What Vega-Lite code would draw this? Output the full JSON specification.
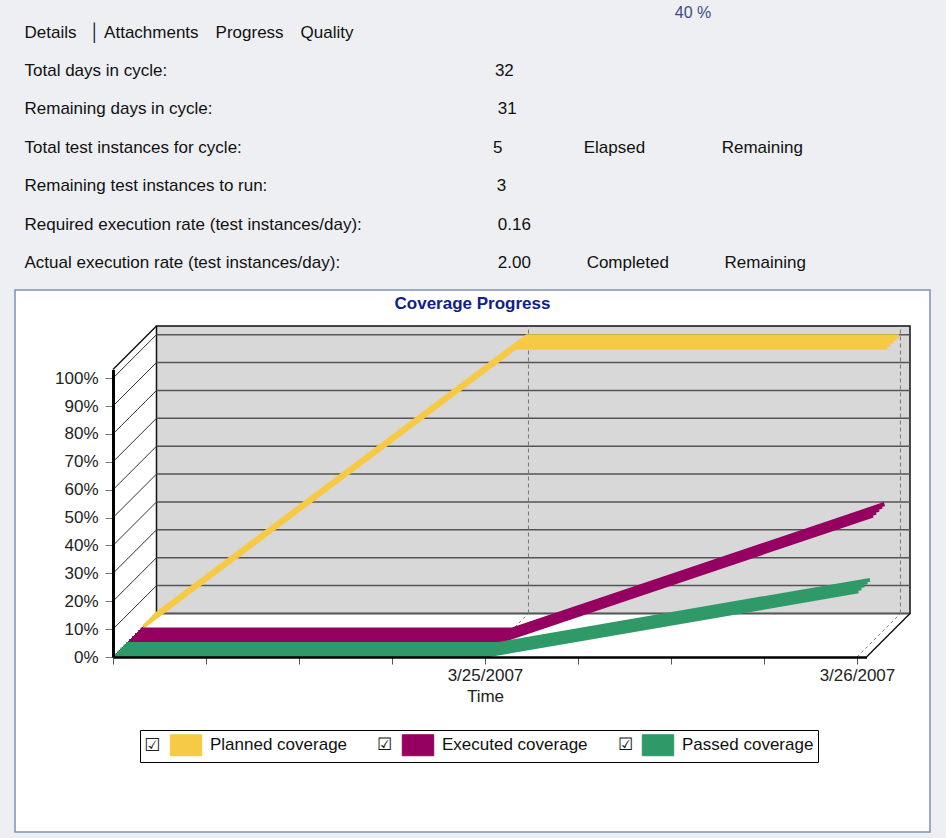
{
  "$schema": "https://vega.github.io/schema/vega-lite/v6.json",
  "background": "#eeeff2",
  "autosize": {"type": "none"},
  "padding": {"left": 15, "top": 290, "right": 16, "bottom": 6},
  "config": {
    "font": "Liberation Sans",
    "view": {"stroke": null},
    "mark": {"invalid": "show"}
  },
  "datasets": {
    "cov": [
      {"series": "Planned coverage", "date": "2007-03-24", "pct": 0},
      {"series": "Planned coverage", "date": "2007-03-25", "pct": 100},
      {"series": "Planned coverage", "date": "2007-03-26", "pct": 100},
      {"series": "Executed coverage", "date": "2007-03-24", "pct": 0},
      {"series": "Executed coverage", "date": "2007-03-25", "pct": 0},
      {"series": "Executed coverage", "date": "2007-03-26", "pct": 45},
      {"series": "Passed coverage", "date": "2007-03-24", "pct": 0},
      {"series": "Passed coverage", "date": "2007-03-25", "pct": 0},
      {"series": "Passed coverage", "date": "2007-03-26", "pct": 23}
    ],
    "grid": [{"pct": 0}, {"pct": 10}, {"pct": 20}, {"pct": 30}, {"pct": 40}, {"pct": 50}, {"pct": 60}, {"pct": 70}, {"pct": 80}, {"pct": 90}, {"pct": 100}],
    "days": [{"date": "2007-03-25"}, {"date": "2007-03-26"}]
  },
  "width": 915,
  "height": 542,
  "view": {"fill": "white", "stroke": "#8090b8", "strokeWidth": 1.5},
  "title": {"text": ["Days", "3 %", "", "", "Test Instance Runs", "40 %"], "anchor": "middle", "dx": 220.5, "baseline": "top", "offset": -55, "lineHeight": 28.75, "fontSize": 16, "fontWeight": "normal", "color": "#3a4a88"},
  "layer": [
    {
      "data": {"values": [{}]},
      "mark": {"type": "rect", "xOffset": 43.5, "x2Offset": 43.5, "yOffset": -43.5, "y2Offset": -43.5, "fill": "#d8d8d8", "stroke": "#111", "strokeWidth": 1.5, "invalid": "show"},
      "encoding": {
        "x": {"datum": {"year": 2007, "month": 3, "date": 24, "utc": true}, "type": "temporal"},
        "x2": {"datum": {"year": 2007, "month": 3, "date": 26, "hours": 0, "minutes": 37, "utc": true}},
        "y": {"datum": 0, "type": "quantitative"},
        "y2": {"datum": 103.1}
      }
    },
    {
      "data": {"name": "grid"},
      "mark": {"type": "rule", "xOffset": 43.5, "x2Offset": 43.5, "yOffset": -43.5, "y2Offset": -43.5, "color": "#555", "strokeWidth": 1.5, "invalid": "show"},
      "encoding": {
        "x": {"datum": {"year": 2007, "month": 3, "date": 24, "utc": true}, "type": "temporal"},
        "x2": {"datum": {"year": 2007, "month": 3, "date": 26, "hours": 0, "minutes": 37, "utc": true}},
        "y": {"field": "pct", "type": "quantitative"}
      }
    },
    {
      "data": {"name": "days"},
      "mark": {"type": "rule", "xOffset": 43.5, "x2Offset": 43.5, "yOffset": -43.5, "y2Offset": -43.5, "color": "#777", "strokeWidth": 1, "strokeDash": [4, 3], "invalid": "show"},
      "encoding": {
        "x": {"field": "date", "type": "temporal"},
        "y": {"datum": 0, "type": "quantitative"},
        "y2": {"datum": 103.1}
      }
    },
    {
      "data": {"name": "grid"},
      "mark": {"type": "rule", "x2Offset": 43.5, "y2Offset": -43.5, "color": "#333", "strokeWidth": 1, "invalid": "show"},
      "encoding": {
        "x": {"datum": {"year": 2007, "month": 3, "date": 24, "utc": true}, "type": "temporal"},
        "x2": {"datum": {"year": 2007, "month": 3, "date": 24, "utc": true}},
        "y": {"field": "pct", "type": "quantitative"},
        "y2": {"field": "pct"}
      }
    },
    {
      "data": {"values": [{}]},
      "mark": {"type": "rule", "x2Offset": 43.5, "y2Offset": -43.5, "color": "#111", "strokeWidth": 1.5, "invalid": "show"},
      "encoding": {
        "x": {"datum": {"year": 2007, "month": 3, "date": 24, "utc": true}, "type": "temporal"},
        "x2": {"datum": {"year": 2007, "month": 3, "date": 24, "utc": true}},
        "y": {"datum": 103.1, "type": "quantitative"},
        "y2": {"datum": 103.1}
      }
    },
    {
      "data": {"name": "days"},
      "mark": {"type": "rule", "x2Offset": 43.5, "y2Offset": -43.5, "color": "#777", "strokeWidth": 1, "strokeDash": [3, 3], "invalid": "show"},
      "encoding": {
        "x": {"field": "date", "type": "temporal"},
        "x2": {"field": "date"},
        "y": {"datum": 0, "type": "quantitative"},
        "y2": {"datum": 0}
      }
    },
    {
      "data": {"values": [{}]},
      "mark": {"type": "rule", "x2Offset": 43.5, "y2Offset": -43.5, "color": "#111", "strokeWidth": 1.5, "invalid": "show"},
      "encoding": {
        "x": {"datum": {"year": 2007, "month": 3, "date": 26, "hours": 0, "minutes": 37, "utc": true}, "type": "temporal"},
        "x2": {"datum": {"year": 2007, "month": 3, "date": 26, "hours": 0, "minutes": 37, "utc": true}},
        "y": {"datum": 0, "type": "quantitative"},
        "y2": {"datum": 0}
      }
    },
    {"data": {"name": "cov"}, "transform": [{"filter": "datum.series === 'Planned coverage'"}], "mark": {"type": "line", "strokeWidth": 4, "xOffset": 30.5, "yOffset": -30.5},
      "encoding": {
        "x": {
          "field": "date", "type": "temporal",
          "scale": {"type": "utc", "domain": [{"year": 2007, "month": 3, "date": 24, "utc": true}, {"year": 2007, "month": 3, "date": 26, "hours": 0, "minutes": 37, "utc": true}], "range": [98, 851.5]},
          "axis": {
            "title": "Coverage Progress", "titleAngle": 0, "titleAlign": "center", "titleBaseline": "top", "titleX": 457, "titleY": -362, "titleFontSize": 17, "titleFontWeight": "bold", "titleColor": "#10208a", "titleLimit": 2000,
            "offset": -175, "zindex": 1, "grid": false, "domainColor": "#000", "domainWidth": 2.5, "tickColor": "#555", "tickSize": 7, "tickCount": 8,
            "labelExpr": "utchours(datum.value) === 0 && utcdate(datum.value) === 25 ? [utcFormat(datum.value, '%-m/%-d/%Y'), 'Time'] : (utchours(datum.value) === 0 && utcdate(datum.value) === 26 ? utcFormat(datum.value, '%-m/%-d/%Y') : '')",
            "labelFontSize": 17, "labelLineHeight": 21, "labelColor": "#222", "labelPadding": 3, "labelOverlap": false, "labelFlush": false}
        },
        "y": {
          "field": "pct", "type": "quantitative",
          "scale": {"domain": [0, 103.1], "range": [367, 79.5], "nice": false, "zero": false},
          "axis": {
            "title": [
              "Details\u2002 │ Attachments\u2003Progress\u2003Quality",
              "Total days in cycle:\u2003\u2003\u2003\u2003\u2003\u2003\u2003\u2003\u2003\u2003\u2003\u2003\u2003\u2003\u2003\u2003\u2003\u2003\u2003 32",
              "Remaining days in cycle:\u2003\u2003\u2003\u2003\u2003\u2003\u2003\u2003\u2003\u2003\u2003\u2003\u2003\u2003\u2003\u2003\u2002 31",
              "Total test instances for cycle:\u2003\u2003\u2003\u2003\u2003\u2003\u2003\u2003\u2003\u2003\u2003\u2003\u2003\u2003\u2002 5\u2003\u2003\u2003\u2003\u2002 Elapsed\u2003\u2003\u2003\u2003\u2002Remaining",
              "Remaining test instances to run:\u2003\u2003\u2003\u2003\u2003\u2003\u2003\u2003\u2003\u2003\u2003\u2003\u2003\u20023",
              "Required execution rate (test instances/day):\u2003\u2003\u2003\u2003\u2003\u2003\u2003\u2002\u20020.16",
              "Actual execution rate (test instances/day):\u2003\u2003\u2003\u2003\u2003\u2003\u2003\u2003\u2002\u2002 2.00\u2003\u2003\u2003 Completed\u2003\u2003\u2003 Remaining"
            ],
            "titleAngle": 0, "titleAlign": "left", "titleBaseline": "top", "titleX": -89, "titleY": -266, "titleLineHeight": 38.4,
            "titleFontSize": 17, "titleFontWeight": "normal", "titleColor": "#111", "titleLimit": 2000,
            "offset": -98, "zindex": 1, "grid": false, "values": [0, 10, 20, 30, 40, 50, 60, 70, 80, 90, 100], "labelExpr": "datum.value + '%'", "domainColor": "#000", "domainWidth": 3, "tickColor": "#777", "tickSize": 8, "labelPadding": 7, "labelFontSize": 17, "labelColor": "#222"}
        },
        "color": {"field": "series", "type": "nominal",
          "scale": {"domain": ["Planned coverage", "Executed coverage", "Passed coverage"], "range": ["#f6ca45", "#950061", "#2f9a68"]},
          "legend": {
            "orient": "none", "legendX": 125, "legendY": 440, "direction": "horizontal",
            "title": "☑", "titleOrient": "left", "titleFont": "DejaVu Sans", "titleFontSize": 18, "titleFontWeight": "normal", "titlePadding": 14, "titleColor": "#222",
            "symbolType": "M-1.5,-1H1.5V1H-1.5Z", "symbolSize": 440, "symbolStrokeWidth": 1, "symbolOpacity": 1,
            "labelFontSize": 17, "labelColor": "#111", "labelOffset": 13, "columnPadding": 7, "labelLimit": 400,
            "labelExpr": "datum.label === 'Passed coverage' ? datum.label + '\u2003\u2003' : datum.label + '\u2002\u2002\u2002 ☑'",
            "fillColor": "white", "strokeColor": "black", "padding": 4,
            "encode": {"symbols": {"update": {"fill": {"scale": "color", "field": "value"}, "fillOpacity": {"value": 1}}}}
          }}
      }},
    {"data": {"name": "cov"}, "transform": [{"filter": "datum.series === 'Planned coverage'"}], "mark": {"type": "line", "strokeWidth": 4, "xOffset": 33.5, "yOffset": -33.5}, "encoding": {"x": {"field": "date", "type": "temporal"}, "y": {"field": "pct", "type": "quantitative"}, "color": {"field": "series", "type": "nominal"}}},
    {"data": {"name": "cov"}, "transform": [{"filter": "datum.series === 'Planned coverage'"}], "mark": {"type": "line", "strokeWidth": 4, "xOffset": 36.5, "yOffset": -36.5}, "encoding": {"x": {"field": "date", "type": "temporal"}, "y": {"field": "pct", "type": "quantitative"}, "color": {"field": "series", "type": "nominal"}}},
    {"data": {"name": "cov"}, "transform": [{"filter": "datum.series === 'Planned coverage'"}], "mark": {"type": "line", "strokeWidth": 4, "xOffset": 39.5, "yOffset": -39.5}, "encoding": {"x": {"field": "date", "type": "temporal"}, "y": {"field": "pct", "type": "quantitative"}, "color": {"field": "series", "type": "nominal"}}},
    {"data": {"name": "cov"}, "transform": [{"filter": "datum.series === 'Planned coverage'"}], "mark": {"type": "line", "strokeWidth": 4, "xOffset": 42, "yOffset": -42}, "encoding": {"x": {"field": "date", "type": "temporal"}, "y": {"field": "pct", "type": "quantitative"}, "color": {"field": "series", "type": "nominal"}}},
    {"data": {"name": "cov"}, "transform": [{"filter": "datum.series === 'Executed coverage'"}], "mark": {"type": "line", "strokeWidth": 4, "xOffset": 16, "yOffset": -16}, "encoding": {"x": {"field": "date", "type": "temporal"}, "y": {"field": "pct", "type": "quantitative"}, "color": {"field": "series", "type": "nominal"}}},
    {"data": {"name": "cov"}, "transform": [{"filter": "datum.series === 'Executed coverage'"}], "mark": {"type": "line", "strokeWidth": 4, "xOffset": 19, "yOffset": -19}, "encoding": {"x": {"field": "date", "type": "temporal"}, "y": {"field": "pct", "type": "quantitative"}, "color": {"field": "series", "type": "nominal"}}},
    {"data": {"name": "cov"}, "transform": [{"filter": "datum.series === 'Executed coverage'"}], "mark": {"type": "line", "strokeWidth": 4, "xOffset": 22, "yOffset": -22}, "encoding": {"x": {"field": "date", "type": "temporal"}, "y": {"field": "pct", "type": "quantitative"}, "color": {"field": "series", "type": "nominal"}}},
    {"data": {"name": "cov"}, "transform": [{"filter": "datum.series === 'Executed coverage'"}], "mark": {"type": "line", "strokeWidth": 4, "xOffset": 25, "yOffset": -25}, "encoding": {"x": {"field": "date", "type": "temporal"}, "y": {"field": "pct", "type": "quantitative"}, "color": {"field": "series", "type": "nominal"}}},
    {"data": {"name": "cov"}, "transform": [{"filter": "datum.series === 'Executed coverage'"}], "mark": {"type": "line", "strokeWidth": 4, "xOffset": 27.5, "yOffset": -27.5}, "encoding": {"x": {"field": "date", "type": "temporal"}, "y": {"field": "pct", "type": "quantitative"}, "color": {"field": "series", "type": "nominal"}}},
    {"data": {"name": "cov"}, "transform": [{"filter": "datum.series === 'Passed coverage'"}], "mark": {"type": "line", "strokeWidth": 4, "xOffset": 1.5, "yOffset": -1.5}, "encoding": {"x": {"field": "date", "type": "temporal"}, "y": {"field": "pct", "type": "quantitative"}, "color": {"field": "series", "type": "nominal"}}},
    {"data": {"name": "cov"}, "transform": [{"filter": "datum.series === 'Passed coverage'"}], "mark": {"type": "line", "strokeWidth": 4, "xOffset": 4.5, "yOffset": -4.5}, "encoding": {"x": {"field": "date", "type": "temporal"}, "y": {"field": "pct", "type": "quantitative"}, "color": {"field": "series", "type": "nominal"}}},
    {"data": {"name": "cov"}, "transform": [{"filter": "datum.series === 'Passed coverage'"}], "mark": {"type": "line", "strokeWidth": 4, "xOffset": 7.5, "yOffset": -7.5}, "encoding": {"x": {"field": "date", "type": "temporal"}, "y": {"field": "pct", "type": "quantitative"}, "color": {"field": "series", "type": "nominal"}}},
    {"data": {"name": "cov"}, "transform": [{"filter": "datum.series === 'Passed coverage'"}], "mark": {"type": "line", "strokeWidth": 4, "xOffset": 10.5, "yOffset": -10.5}, "encoding": {"x": {"field": "date", "type": "temporal"}, "y": {"field": "pct", "type": "quantitative"}, "color": {"field": "series", "type": "nominal"}}},
    {"data": {"name": "cov"}, "transform": [{"filter": "datum.series === 'Passed coverage'"}], "mark": {"type": "line", "strokeWidth": 4, "xOffset": 13, "yOffset": -13}, "encoding": {"x": {"field": "date", "type": "temporal"}, "y": {"field": "pct", "type": "quantitative"}, "color": {"field": "series", "type": "nominal"}}}
  ]
}
